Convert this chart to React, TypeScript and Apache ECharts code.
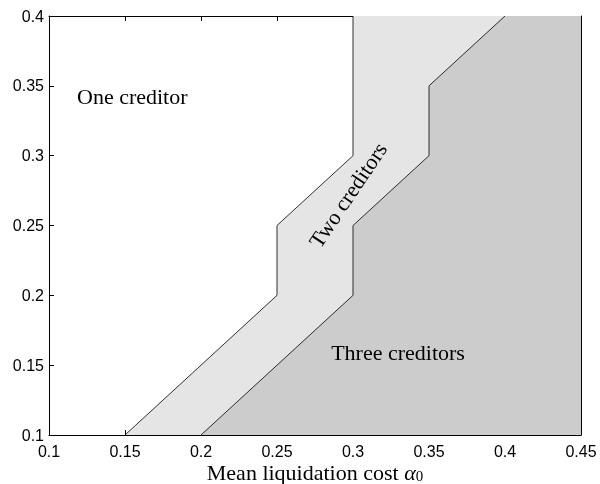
import React, { useEffect, useRef } from "react";
import * as echarts from "echarts";

// Boundary between "One creditor" and "Two creditors" regions
const boundary1X = [0.15, 0.25, 0.25, 0.3, 0.3];
const boundary1Y = [0.1, 0.2, 0.25, 0.3, 0.4];
// Boundary between "Two creditors" and "Three creditors" regions
const boundary2X = [0.2, 0.3, 0.3, 0.35, 0.35, 0.4];
const boundary2Y = [0.1, 0.2, 0.25, 0.3, 0.35, 0.4];
// Right edge to close the filled regions
const edgeX = [0.45, 0.45];
const edgeY = [0.4, 0.1];

const xTicks = [0.1, 0.15, 0.2, 0.25, 0.3, 0.35, 0.4, 0.45];
const yTicks = [0.1, 0.15, 0.2, 0.25, 0.3, 0.35, 0.4];

const regionLabels = ["One creditor", "Two creditors", "Three creditors"];

const zip = (xs: number[], ys: number[]) => xs.map((x, i) => [x, ys[i]]);

const fmt = (v: number) => String(+v.toFixed(2));

export default function App() {
  const ref = useRef<HTMLDivElement>(null);
  useEffect(() => {
    document.body.style.margin = "0";
    const chart = echarts.init(ref.current!, null, { renderer: "svg" });
    const light = [...zip(boundary1X, boundary1Y), [edgeX[0], edgeY[0]], [edgeX[1], edgeY[1]]];
    const dark = [...zip(boundary2X, boundary2Y), [edgeX[0], edgeY[0]], [edgeX[1], edgeY[1]]];
    const polySeries = (pts: number[][], color: string, z: number) => ({
      type: "custom",
      z,
      silent: true,
      data: [0],
      renderItem: (_p: any, api: any) => ({
        type: "polygon",
        shape: { points: pts.map((p) => api.coord(p)) },
        style: { fill: color, stroke: "none" },
      }),
    });
    const serif = "'Liberation Serif', 'DejaVu Serif', serif";
    const sans = "'Liberation Sans', Arial, sans-serif";
    const axisCommon = {
      type: "value",
      interval: 0.05,
      axisLine: { show: true, lineStyle: { color: "#000", width: 1 } },
      axisTick: { show: true, inside: true, length: 5, lineStyle: { color: "#000" } },
      splitLine: { show: false },
    };
    chart.setOption({
      animation: false,
      grid: { left: 49, right: 19, top: 16, bottom: 49, containLabel: false, outerBoundsMode: "none" },
      xAxis: [
        {
          ...axisCommon,
          min: xTicks[0],
          max: xTicks[xTicks.length - 1],
          position: "bottom",
          axisLabel: { color: "#000", fontSize: 16, lineHeight: 14, fontFamily: sans, margin: 9, formatter: fmt },
          name: "Mean liquidation cost {a|α}{s|0}",
          nameLocation: "middle",
          nameGap: 27,
          nameMoveOverlap: false,
          nameTextStyle: {
            color: "#000",
            fontSize: 22,
            lineHeight: 21,
            fontFamily: serif,
            rich: {
              a: { fontSize: 22, lineHeight: 21, fontFamily: serif, fontStyle: "italic", color: "#000" },
              s: { fontSize: 15, lineHeight: 21, fontFamily: serif, color: "#000", verticalAlign: "bottom" },
            },
          },
        },
        {
          ...axisCommon,
          min: xTicks[0],
          max: xTicks[xTicks.length - 1],
          position: "top",
          axisLabel: { show: false },
        },
      ],
      yAxis: [
        {
          ...axisCommon,
          min: yTicks[0],
          max: yTicks[yTicks.length - 1],
          position: "left",
          axisLabel: { color: "#000", fontSize: 16, fontFamily: sans, margin: 5, formatter: fmt },
        },
        {
          ...axisCommon,
          min: yTicks[0],
          max: yTicks[yTicks.length - 1],
          position: "right",
          axisLabel: { show: false },
        },
      ],
      series: [
        polySeries(light, "#e5e5e5", 1),
        polySeries(dark, "#cccccc", 2),
        {
          type: "line",
          z: 3,
          data: zip(boundary1X, boundary1Y),
          symbol: "none",
          lineStyle: { color: "#000", width: 0.8 },
          silent: true,
        },
        {
          type: "line",
          z: 3,
          data: zip(boundary2X, boundary2Y),
          symbol: "none",
          lineStyle: { color: "#000", width: 0.8 },
          silent: true,
        },
      ],
      graphic: [
        {
          type: "text",
          x: 77,
          y: 96,
          z: 10,
          style: { text: regionLabels[0], fontSize: 22, fontFamily: serif, fill: "#000", verticalAlign: "middle" },
        },
        {
          type: "text",
          x: 348,
          y: 195,
          rotation: (56 * Math.PI) / 180,
          z: 10,
          style: {
            text: regionLabels[1],
            fontSize: 22,
            fontFamily: serif,
            fill: "#000",
            align: "center",
            verticalAlign: "middle",
          },
        },
        {
          type: "text",
          x: 398,
          y: 352,
          z: 10,
          style: {
            text: regionLabels[2],
            fontSize: 22,
            fontFamily: serif,
            fill: "#000",
            align: "center",
            verticalAlign: "middle",
          },
        },
      ],
    });
    return () => chart.dispose();
  }, []);
  return <div ref={ref} style={{ position: "fixed", left: 0, top: 0, width: 600, height: 484 }} />;
}
